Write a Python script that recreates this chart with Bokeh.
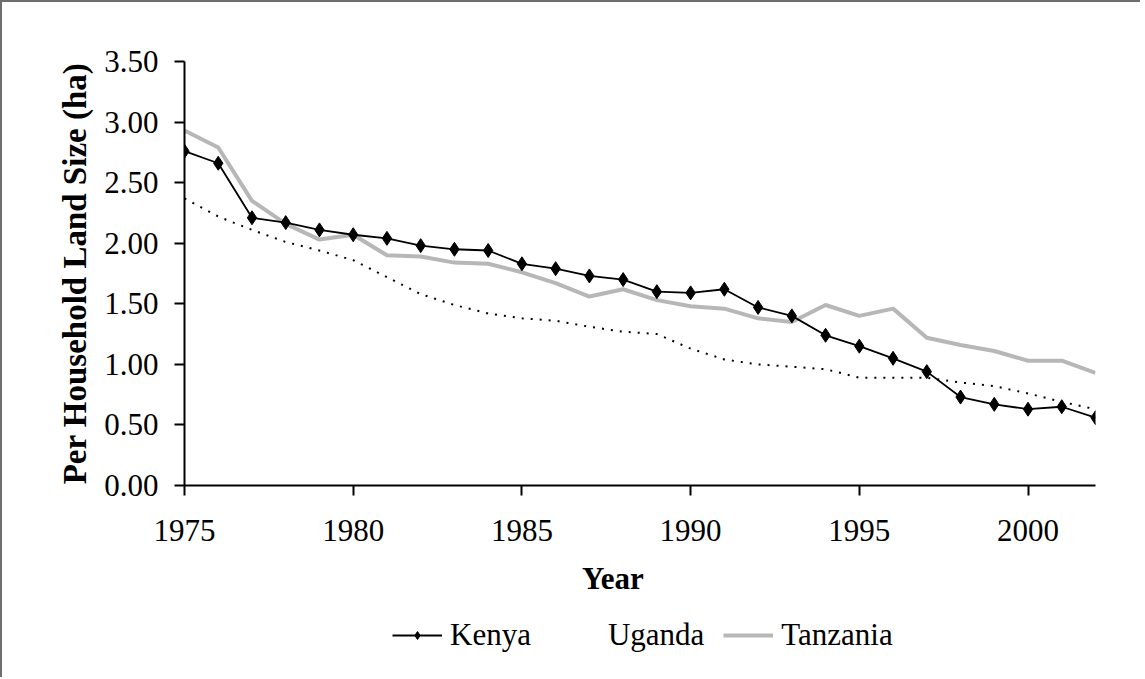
from bokeh.plotting import figure
from bokeh.layouts import column
from bokeh.models import Legend, LegendItem, FixedTicker, NumeralTickFormatter, Range1d
from bokeh.embed import file_html
from bokeh.resources import INLINE

years = list(range(1975, 2003))
kenya = [2.76, 2.66, 2.21, 2.17, 2.11, 2.07, 2.04, 1.98, 1.95, 1.94, 1.83, 1.79, 1.73, 1.70,
         1.60, 1.59, 1.62, 1.47, 1.40, 1.24, 1.15, 1.05, 0.94, 0.73, 0.67, 0.63, 0.65, 0.56]
uganda = [2.37, 2.22, 2.11, 2.01, 1.94, 1.86, 1.72, 1.58, 1.49, 1.42, 1.38, 1.36, 1.31, 1.27,
          1.25, 1.13, 1.04, 1.00, 0.98, 0.96, 0.89, 0.89, 0.89, 0.85, 0.82, 0.76, 0.69, 0.63]
tanzania = [2.93, 2.79, 2.35, 2.16, 2.03, 2.07, 1.90, 1.89, 1.84, 1.83, 1.76, 1.67, 1.56, 1.62,
            1.53, 1.48, 1.46, 1.38, 1.35, 1.49, 1.40, 1.46, 1.22, 1.16, 1.11, 1.03, 1.03, 0.93]
x_ticks = [1975, 1980, 1985, 1990, 1995, 2000]
y_ticks = [0.0, 0.5, 1.0, 1.5, 2.0, 2.5, 3.0, 3.5]
series_names = ["Kenya", "Uganda", "Tanzania"]

FONT = "Liberation Serif"
FS = "31px"
BORDER = "2px solid #6e6e6e"

p = figure(width=1140, height=615, output_backend="svg", toolbar_location=None,
           x_range=Range1d(1975, 2002), y_range=Range1d(0, 3.5),
           min_border_left=182, min_border_right=47, min_border_top=59, min_border_bottom=132)
p.styles = {"border-left": BORDER, "border-top": BORDER}
p.outline_line_color = None
p.xgrid.visible = False
p.ygrid.visible = False
p.background_fill_color = "white"
p.border_fill_color = "white"

for ax in (p.xaxis[0], p.yaxis[0]):
    ax.axis_line_color = "black"
    ax.axis_line_width = 2
    ax.major_tick_line_color = "black"
    ax.major_tick_line_width = 2
    ax.major_tick_out = 10
    ax.major_tick_in = 0
    ax.minor_tick_line_color = None
    ax.major_label_text_font = FONT
    ax.major_label_text_font_size = FS
    ax.major_label_text_color = "black"
    ax.axis_label_text_font = FONT
    ax.axis_label_text_font_style = "bold"
    ax.axis_label_text_font_size = FS
    ax.axis_label_text_color = "black"

p.xaxis.ticker = FixedTicker(ticks=x_ticks)
p.yaxis.ticker = FixedTicker(ticks=y_ticks)
p.yaxis.formatter = NumeralTickFormatter(format="0.00")
# trailing no-break spaces shift the centred title left, as in the reference
p.xaxis.axis_label = "Year" + "\u00a0" * 7
p.yaxis.axis_label = "Per Household Land Size (ha)"
p.yaxis.axis_label_text_font_size = "33px"
p.xaxis.major_label_standoff = 24
p.yaxis.major_label_standoff = 16
p.xaxis.axis_label_standoff = 17
p.yaxis.axis_label_standoff = 8

p.line(years, tanzania, line_color="#b7b7b7", line_width=4)
p.line(years, uganda, line_color="black", line_width=2, line_dash="2 7")
p.line(years, kenya, line_color="black", line_width=1.8)
p.scatter(years, kenya, marker="diamond", size=14, fill_color="black", line_color="black")

# legend strip below the chart (its frame is aligned with the chart's frame by the column)
lg = figure(width=1140, height=62, output_backend="svg", toolbar_location=None,
            x_range=Range1d(0, 1), y_range=Range1d(0, 1),
            x_axis_type=None, y_axis_type=None, min_border=0)
lg.styles = {"border-left": BORDER}
lg.outline_line_color = None
lg.xgrid.visible = False
lg.ygrid.visible = False
lg.border_fill_color = "white"
nan = [float("nan")]
l_ke = lg.line(nan, nan, line_color="black", line_width=1.8)
m_ke = lg.scatter(nan, nan, marker="diamond", size=14, fill_color="black", line_color="black")
# Uganda's dotted sample is not visible in the reference legend
l_ug = lg.line(nan, nan, line_color="black", line_alpha=0)
l_tz = lg.line(nan, nan, line_color="#b7b7b7", line_width=4)

legend = Legend(items=[
    LegendItem(label=series_names[0], renderers=[l_ke, m_ke]),
    LegendItem(label=series_names[1], renderers=[l_ug]),
    LegendItem(label=series_names[2], renderers=[l_tz]),
], orientation="horizontal", location=(208, 24))
legend.border_line_color = None
legend.background_fill_alpha = 0
legend.label_text_font = FONT
legend.label_text_font_size = FS
legend.label_text_color = "black"
legend.glyph_width = 50
legend.glyph_height = 20
legend.spacing = 19
legend.label_standoff = 8
legend.padding = 0
legend.margin = 0
lg.add_layout(legend, "center")

layout = column(p, lg, spacing=0)
open("out.html", "w").write(file_html(layout, INLINE))
